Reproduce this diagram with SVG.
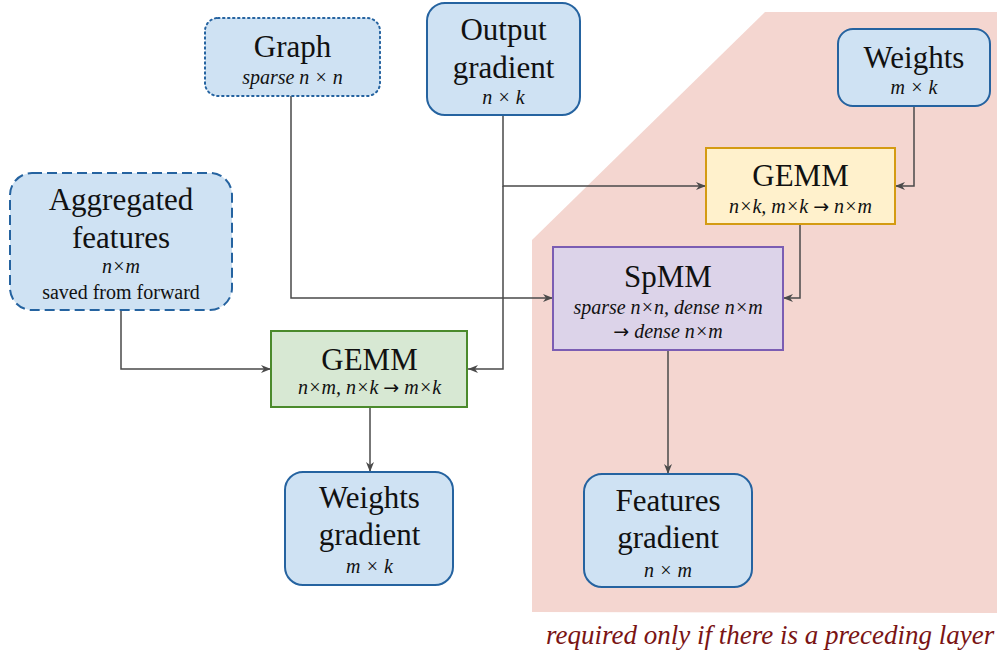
<svg xmlns="http://www.w3.org/2000/svg" width="997" height="656" viewBox="0 0 997 656">
<defs>
<marker id="arr" viewBox="0 0 10 8" refX="10" refY="4" markerWidth="10" markerHeight="8" markerUnits="userSpaceOnUse" orient="auto">
<path d="M0,0 L10,4 L0,8 L3,4 z" fill="#4a4a4a"/>
</marker>
<style>
.t{font-family:"Liberation Serif","Times New Roman",serif;font-size:31px;fill:#111;text-anchor:middle}
.s{font-family:"Liberation Serif","Times New Roman",serif;font-size:20px;font-style:italic;fill:#111;text-anchor:middle}
.r{font-family:"Liberation Serif","Times New Roman",serif;font-size:20px;fill:#111;text-anchor:middle}
.a{font-family:"DejaVu Sans",sans-serif;font-style:normal;font-size:19px}
.blue{fill:#cfe2f3;stroke:#2563a0;stroke-width:2}
.c{fill:none;stroke:#4a4a4a;stroke-width:1.5;marker-end:url(#arr)}
</style>
</defs>
<rect width="997" height="656" fill="#fff"/>
<polygon id="region" points="765,12 997,12 997,613 532,612 532,240" fill="#f4d6d0"/>
<text x="546" y="644" style="font-family:'Liberation Serif','Times New Roman',serif;font-size:27px;font-style:italic;fill:#7a1414">required only if there is a preceding layer</text>

<g id="connectors">
<path class="c" d="M291,96 V298 H553"/>
<path class="c" d="M503,115 V186 H706"/>
<path class="c" d="M503,186 V369 H468"/>
<path class="c" d="M914,106 V186 H895"/>
<path class="c" d="M800,224 V298 H783"/>
<path class="c" d="M121,310 V369 H271"/>
<path class="c" d="M370,407 V472"/>
<path class="c" d="M668,350 V474"/>
</g>

<g id="graph">
<rect x="205" y="18" width="175" height="78" rx="13" class="blue" stroke-dasharray="1.5 3.5" stroke-linecap="round"/>
<text class="t" x="292.5" y="57">Graph</text>
<text class="s" x="292.5" y="84">sparse n × n</text>
</g>

<g id="output-gradient">
<rect x="427" y="3" width="153" height="112" rx="18" class="blue"/>
<text class="t" x="503.5" y="40">Output</text>
<text class="t" x="503.5" y="78">gradient</text>
<text class="s" x="503.5" y="104">n × k</text>
</g>

<g id="weights">
<rect x="838" y="29" width="152" height="77" rx="15" class="blue"/>
<text class="t" x="914" y="68">Weights</text>
<text class="s" x="914" y="94">m × k</text>
</g>

<g id="gemm-yellow">
<rect x="706" y="148" width="189" height="76" fill="#fff1cc" stroke="#d49b12" stroke-width="2"/>
<text class="t" x="800.5" y="186">GEMM</text>
<text class="s" x="800.5" y="213">n×k, m×k <tspan class="a">→</tspan> n×m</text>
</g>

<g id="aggregated-features">
<rect x="10" y="173" width="222" height="137" rx="22" class="blue" stroke-dasharray="10 5"/>
<text class="t" x="121" y="210">Aggregated</text>
<text class="t" x="121" y="248">features</text>
<text class="s" x="121" y="273">n×m</text>
<text class="r" x="121" y="299">saved from forward</text>
</g>

<g id="spmm">
<rect x="553" y="247" width="230" height="103" fill="#dcd3e9" stroke="#7b5db3" stroke-width="2"/>
<text class="t" x="668" y="287">SpMM</text>
<text class="s" x="668" y="314">sparse n×n, dense n×m</text>
<text class="s" x="668" y="338"><tspan class="a">→</tspan> dense n×m</text>
</g>

<g id="gemm-green">
<rect x="271" y="331" width="196" height="76" fill="#d7e8d3" stroke="#4b8a2c" stroke-width="2"/>
<text class="t" x="369.5" y="370">GEMM</text>
<text class="s" x="369.5" y="394">n×m, n×k <tspan class="a">→</tspan> m×k</text>
</g>

<g id="weights-gradient">
<rect x="285" y="472" width="168" height="113" rx="18" class="blue"/>
<text class="t" x="369.5" y="508">Weights</text>
<text class="t" x="369.5" y="545">gradient</text>
<text class="s" x="369.5" y="573">m × k</text>
</g>

<g id="features-gradient">
<rect x="584" y="474" width="168" height="113" rx="18" class="blue"/>
<text class="t" x="668" y="511">Features</text>
<text class="t" x="668" y="548">gradient</text>
<text class="s" x="668" y="577">n × m</text>
</g>
</svg>
